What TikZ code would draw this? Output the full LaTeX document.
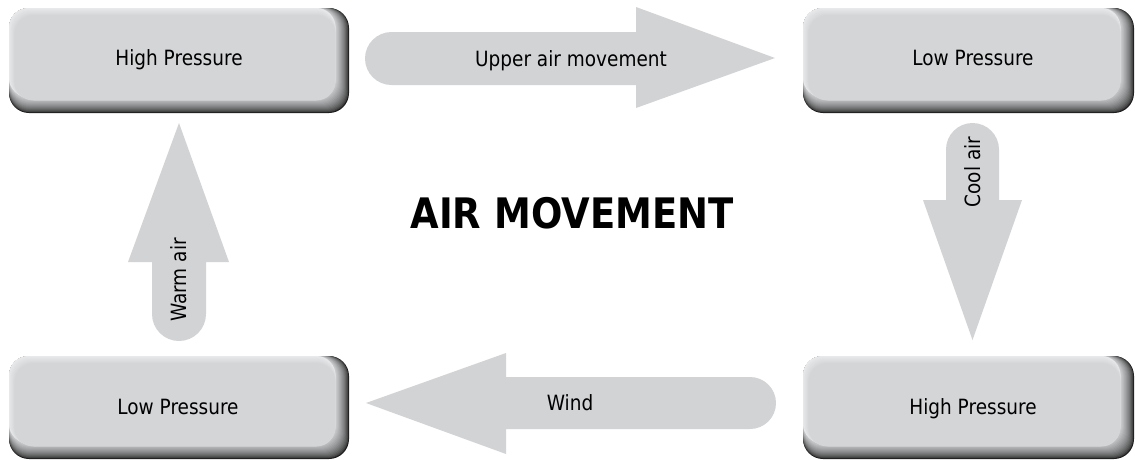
\documentclass[tikz,border=0pt]{standalone}
\usepackage{fontspec}
\setmainfont{DejaVu Sans}[FakeStretch=0.88]
\definecolor{facecol}{HTML}{D4D5D7}
\definecolor{shadowcol}{HTML}{1E1E1E}
\definecolor{lightcol}{HTML}{E8E9EA}
\definecolor{arrowcol}{HTML}{D2D3D5}
\tikzset{
  arrowshape/.style={fill=arrowcol, draw=none},
  boxlabel/.style={font=\fontsize{21}{25}\selectfont, text=black, anchor=base, inner sep=0pt},
  arrowlabel/.style={font=\fontsize{21}{25}\selectfont, text=black, inner sep=0pt},
  titlelabel/.style={font=\fontsize{42}{48}\selectfont\bfseries, text=black, anchor=base, inner sep=0pt}
}
% #1 name, #2 x0, #3 y0, #4 x1, #5 y1, #6 label x, #7 label baseline y, #8 text
\newcommand\bevbox[8]{%
  \foreach \i in {0,...,16}{%
    \pgfmathsetmacro\pc{100*(\i/16)^0.6}%
    \fill[facecol!\pc!shadowcol, rounded corners=20pt] (#2,#3) rectangle ({#4-0.85*\i},{#5-\i});
  }%
  \foreach \j in {0,...,7}{%
    \pgfmathsetmacro\qc{100*(\j/7)}%
    \fill[facecol!\qc!lightcol, rounded corners=19pt] ({#2+0.8*\j},{#3+\j}) rectangle ({#4-13.6},{#5-16+0.5*\j});
  }%
  \node[boxlabel] (#1) at (#6,#7) {#8};
}
\begin{document}
\begin{tikzpicture}[x=1pt,y=-1pt]
\useasboundingbox (0,0) rectangle (1135,459);

% boxes
\bevbox{hp1}{9}{8}{349}{113}{179}{65.5}{High Pressure}
\bevbox{lp1}{803}{8}{1134}{113}{973}{65.5}{Low Pressure}
\bevbox{lp2}{9}{356}{349}{459}{178}{414}{Low Pressure}
\bevbox{hp2}{803}{356}{1134}{459}{973}{414}{High Pressure}

% upper air movement arrow (right)
\fill[arrowshape] (636,32) [rounded corners=26.5pt] -- (365,32) -- (365,85) [sharp corners] -- (636,85) -- (636,108) -- (775,58) -- (636,7) -- cycle;
\node[arrowlabel, anchor=base] (upper) at (571,66) {Upper air movement};

% cool air arrow (down)
\fill[arrowshape] (999,200) [rounded corners=26.5pt] -- (999,123) -- (946,123) [sharp corners] -- (946,200) -- (923,200) -- (972.5,340) -- (1022,200) -- cycle;
\node[arrowlabel, rotate=90] (cool) at (973,172) {Cool air};

% wind arrow (left)
\fill[arrowshape] (506,377) [rounded corners=26pt] -- (776,377) -- (776,429) [sharp corners] -- (506,429) -- (506,454) -- (366,403) -- (506,353) -- cycle;
\node[arrowlabel, anchor=base] (wind) at (570,410.5) {Wind};

% warm air arrow (up)
\fill[arrowshape] (152,262) [rounded corners=27pt] -- (152,341) -- (206,341) [sharp corners] -- (206,262) -- (229,262) -- (179,123) -- (128,262) -- cycle;
\node[arrowlabel, rotate=90] (warm) at (179,280) {Warm air};

% title
\node[titlelabel] (title) at (572,228) {AIR MOVEMENT};
\end{tikzpicture}
\end{document}
